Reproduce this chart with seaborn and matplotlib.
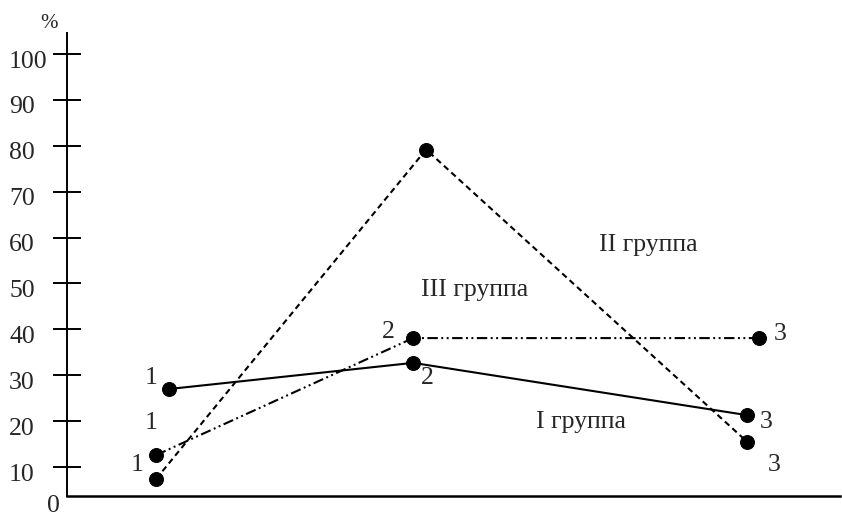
import pandas as pd
import matplotlib
matplotlib.use("Agg")
import matplotlib.pyplot as plt
import matplotlib.transforms as mtransforms
import seaborn as sns

# значения (%)
groups = ["I группа", "II группа", "III группа"]
x_group1 = [1.048, 1.952, 3.189]
y_group1 = [27.0, 32.7, 21.3]
x_group2 = [1.0, 2.0, 3.189]
y_group2 = [7.4, 79.2, 15.5]
x_group3 = [1.0, 1.952, 3.233]
y_group3 = [12.6, 38.1, 38.1]
point_labels = ["1", "2", "3"]
y_ticks = [10, 20, 30, 40, 50, 60, 70, 80, 90, 100]

sns.set_style("white")
plt.rcParams["font.family"] = ["Liberation Serif", "DejaVu Serif"]
plt.rcParams["lines.scale_dashes"] = False

df = pd.concat([
    pd.DataFrame({"x": x_group1, "y": y_group1, "группа": groups[0]}),
    pd.DataFrame({"x": x_group2, "y": y_group2, "группа": groups[1]}),
    pd.DataFrame({"x": x_group3, "y": y_group3, "группа": groups[2]}),
])

fs = 18.5
fig = plt.figure(figsize=(8.42, 5.17), dpi=100)
ax = fig.add_axes([67 / 842, 21 / 517, 773 / 842, 463 / 517])

sns.lineplot(data=df, x="x", y="y", style="группа", ax=ax, color="black",
             dashes={groups[0]: "", groups[1]: (4.3, 2.9),
                     groups[2]: (7.5, 2.5, 1.4, 2.5, 1.4, 2.5)},
             markers={g: "o" for g in groups}, markersize=10,
             markeredgecolor="black", linewidth=1.5, legend=False,
             errorbar=None, sort=False)
for line in ax.lines:
    line.set_clip_on(False)

ax.set_xlim(0.670, 3.533)
ax.set_ylim(3.68, 104.6)
ax.set_xticks([])
ax.set_yticks(y_ticks)
ax.set_yticklabels([str(t) for t in y_ticks], fontsize=fs, ha="left")
ax.tick_params(axis="y", left=True, direction="inout", length=19.5,
               width=1.4, pad=32, color="black")
# подписи в оригинале чуть ниже делений
shift = mtransforms.ScaledTranslation(0, -5 / 100, fig.dpi_scale_trans)
for lab in ax.get_yticklabels():
    lab.set_transform(lab.get_transform() + shift)
ax.set_xlabel("")
ax.set_ylabel("")
for s in ["top", "right"]:
    ax.spines[s].set_visible(False)
ax.spines["left"].set_linewidth(1.4)
ax.spines["bottom"].set_linewidth(1.8)
ax.spines["left"].set_color("black")
ax.spines["bottom"].set_color("black")

# номера точек
offsets = {
    groups[0]: [(-13, 8), (10, -11), (14, -5)],
    groups[1]: [(-13.7, 10), None, (19.4, -16.6)],
    groups[2]: [(-3.6, 23), (-18, 4.3), (15, 3)],
}
series = {groups[0]: (x_group1, y_group1), groups[1]: (x_group2, y_group2),
          groups[2]: (x_group3, y_group3)}
for g, (xs, ys) in series.items():
    for xi, yi, lab, off in zip(xs, ys, point_labels, offsets[g]):
        if off is None:
            continue
        ax.annotate(lab, (xi, yi), xytext=off, textcoords="offset points",
                    ha="center", va="center", fontsize=fs)

ax.text(2.822, 58.4, "II группа", ha="center", va="center", fontsize=fs)
ax.text(2.178, 48.6, "III группа", ha="center", va="center", fontsize=fs)
ax.text(2.574, 19.8, "I группа", ha="center", va="center", fontsize=fs)

fig.text(49 / 842, 1 - 23 / 517, "%", ha="center", va="center", fontsize=15)
fig.text(53 / 842, 1 - 506 / 517, "0", ha="center", va="center", fontsize=fs)

fig.savefig("out.png", dpi=100)
